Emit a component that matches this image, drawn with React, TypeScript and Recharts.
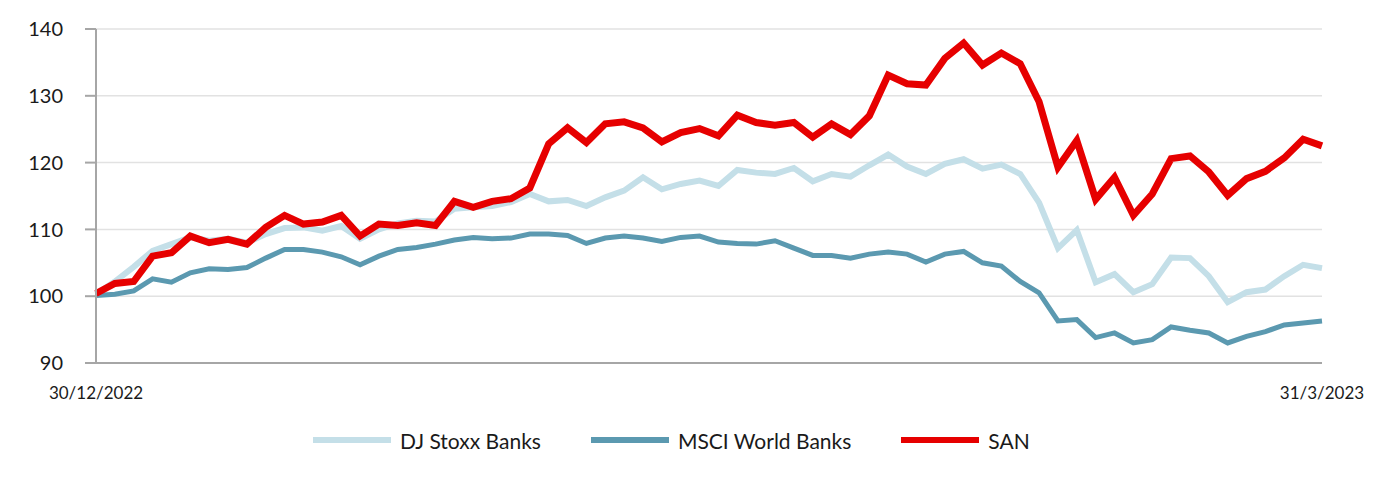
import React from "react";
import { LineChart, Line, XAxis, YAxis, CartesianGrid } from "recharts";

const dates = [
  "30/12/2022",
  "2/1/2023", "3/1/2023", "4/1/2023", "5/1/2023", "6/1/2023",
  "9/1/2023", "10/1/2023", "11/1/2023", "12/1/2023", "13/1/2023",
  "16/1/2023", "17/1/2023", "18/1/2023", "19/1/2023", "20/1/2023",
  "23/1/2023", "24/1/2023", "25/1/2023", "26/1/2023", "27/1/2023",
  "30/1/2023", "31/1/2023", "1/2/2023", "2/2/2023", "3/2/2023",
  "6/2/2023", "7/2/2023", "8/2/2023", "9/2/2023", "10/2/2023",
  "13/2/2023", "14/2/2023", "15/2/2023", "16/2/2023", "17/2/2023",
  "20/2/2023", "21/2/2023", "22/2/2023", "23/2/2023", "24/2/2023",
  "27/2/2023", "28/2/2023", "1/3/2023", "2/3/2023", "3/3/2023",
  "6/3/2023", "7/3/2023", "8/3/2023", "9/3/2023", "10/3/2023",
  "13/3/2023", "14/3/2023", "15/3/2023", "16/3/2023", "17/3/2023",
  "20/3/2023", "21/3/2023", "22/3/2023", "23/3/2023", "24/3/2023",
  "27/3/2023", "28/3/2023", "29/3/2023", "30/3/2023", "31/3/2023",
];

const djStoxx = [
  100.3, 102.2, 104.4, 106.8, 107.8, 108.8, 108.3, 108.6, 108.0, 109.3,
  110.2, 110.3, 109.8, 110.5, 108.6, 110.0, 110.9, 111.3, 111.2, 113.1,
  113.3, 113.5, 114.1, 115.3, 114.2, 114.4, 113.5, 114.8, 115.8, 117.8,
  116.0, 116.8, 117.3, 116.5, 118.9, 118.5, 118.3, 119.2, 117.2, 118.3,
  117.9, 119.6, 121.2, 119.4, 118.3, 119.8, 120.5, 119.1, 119.7, 118.3,
  114.0, 107.2, 109.9, 102.1, 103.3, 100.6, 101.8, 105.8, 105.7, 103.0,
  99.1, 100.6, 101.0, 103.0, 104.7, 104.2,
];

const msciWorld = [
  100.1, 100.3, 100.8, 102.6, 102.1, 103.5, 104.1, 104.0, 104.3, 105.7,
  107.0, 107.0, 106.6, 105.9, 104.7, 106.0, 107.0, 107.3, 107.8, 108.4,
  108.8, 108.6, 108.7, 109.3, 109.3, 109.1, 107.9, 108.7, 109.0, 108.7,
  108.2, 108.8, 109.0, 108.1, 107.9, 107.8, 108.3, 107.2, 106.1, 106.1,
  105.7, 106.3, 106.6, 106.3, 105.1, 106.3, 106.7, 105.0, 104.5, 102.2,
  100.5, 96.3, 96.5, 93.8, 94.5, 93.0, 93.5, 95.4, 94.9, 94.5,
  93.0, 94.0, 94.7, 95.7, 96.0, 96.3,
];

const san = [
  100.4, 101.9, 102.2, 106.0, 106.5, 109.0, 108.0, 108.5, 107.8, 110.3,
  112.1, 110.8, 111.1, 112.1, 109.0, 110.8, 110.6, 111.0, 110.6, 114.2,
  113.3, 114.2, 114.6, 116.2, 122.8, 125.2, 123.0, 125.8, 126.1, 125.2,
  123.1, 124.5, 125.1, 124.0, 127.1, 126.0, 125.6, 126.0, 123.8, 125.8,
  124.2, 127.0, 133.1, 131.8, 131.6, 135.6, 137.9, 134.6, 136.4, 134.8,
  129.1, 119.3, 123.3, 114.5, 117.8, 112.1, 115.3, 120.6, 121.0, 118.6,
  115.1, 117.6, 118.7, 120.7, 123.5, 122.5,
];

const yTicks = [90, 100, 110, 120, 130, 140];
const xTickLabels = ["30/12/2022", "31/3/2023"];

const series = [
  { key: "dj", name: "DJ Stoxx Banks", color: "#C4DFE8", width: 6 },
  { key: "msci", name: "MSCI World Banks", color: "#5B99B0", width: 5 },
  { key: "san", name: "SAN", color: "#E60000", width: 7 },
];

const data = dates.map((d, i) => ({
  date: d,
  dj: djStoxx[i],
  msci: msciWorld[i],
  san: san[i],
}));

const FONT = "Lato, 'Noto Sans', sans-serif";

function DateTick(props: any) {
  const { x, y, payload } = props;
  if (!xTickLabels.includes(payload.value)) return <g />;
  return (
    <text
      x={x}
      y={y + 29}
      textAnchor="middle"
      dominantBaseline="central"
      fontSize={17}
      fontFamily={FONT}
      fill="#1a1a1a"
    >
      {payload.value}
    </text>
  );
}

export default function App() {
  return (
    <div style={{ width: 1372, fontFamily: FONT }}>
      <LineChart
        width={1372}
        height={400}
        data={data}
        margin={{ top: 21, right: 58, left: 28, bottom: 0 }}
      >
        <CartesianGrid vertical={false} stroke="#e2e2e2" strokeWidth={1.5} />
        <XAxis
          dataKey="date"
          interval={0}
          height={45}
          tickLine={false}
          tickSize={0}
          tickMargin={0}
          axisLine={{ stroke: "#a6a6a6", strokeWidth: 2 }}
          tick={<DateTick />}
        />
        <YAxis
          width={60}
          domain={[90, 140]}
          ticks={yTicks}
          allowDataOverflow
          tickSize={11}
          tickMargin={22}
          tickLine={{ stroke: "#a6a6a6", strokeWidth: 2 }}
          axisLine={{ stroke: "#a6a6a6", strokeWidth: 2 }}
          tick={{ fontSize: 20, fill: "#1a1a1a", fontFamily: FONT }}
        />
        {series.map((s) => (
          <Line
            key={s.key}
            type="linear"
            dataKey={s.key}
            name={s.name}
            stroke={s.color}
            strokeWidth={s.width}
            dot={false}
            activeDot={false}
            isAnimationActive={false}
          />
        ))}
      </LineChart>
      <div
        style={{
          display: "flex",
          alignItems: "center",
          height: 24,
          marginTop: 20,
          paddingLeft: 305,
          fontSize: 21,
          color: "#1a1a1a",
        }}
      >
        {series.map((s) => (
          <div key={s.key} style={{ display: "flex", alignItems: "center", marginRight: 50 }}>
            <span
              style={{
                display: "inline-block",
                width: 78,
                height: 6,
                background: s.color,
                marginRight: 9,
              }}
            />
            <span>{s.name}</span>
          </div>
        ))}
      </div>
    </div>
  );
}
